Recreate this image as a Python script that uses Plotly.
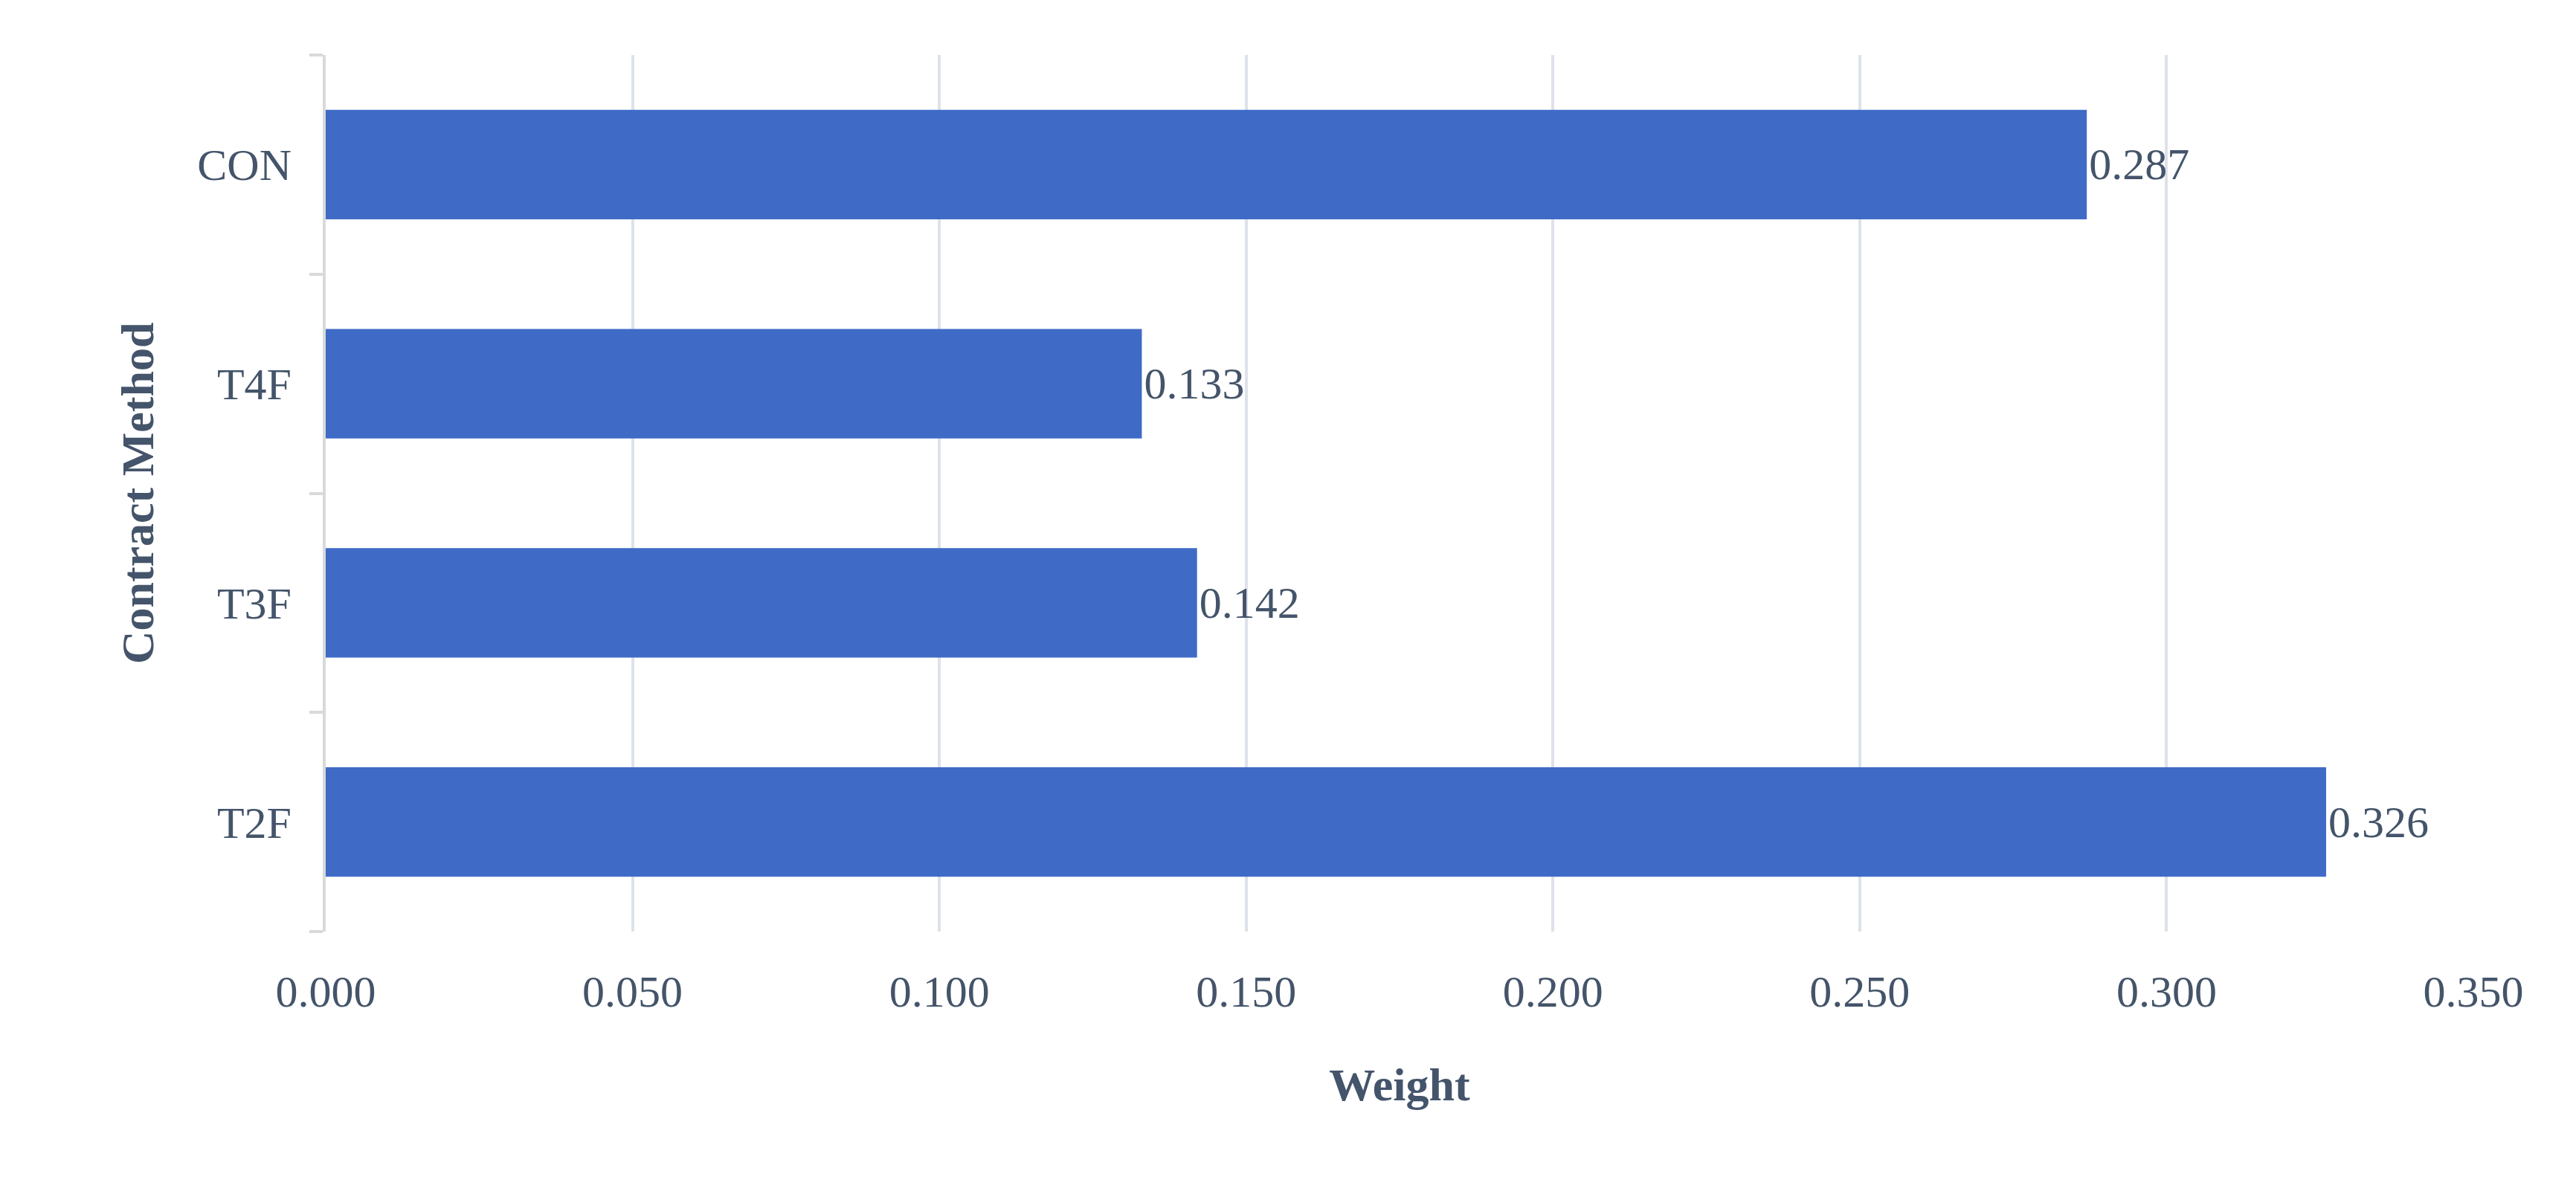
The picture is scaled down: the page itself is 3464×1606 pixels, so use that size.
import plotly.graph_objects as go

categories = ["T2F", "T3F", "T4F", "CON"]
weights = [0.326, 0.142, 0.133, 0.287]
labels = ["0.326", "0.142", "0.133", "0.287"]

txt = "#44546a"
font = "Liberation Serif"

fig = go.Figure(go.Bar(
    y=categories, x=weights, orientation="h", width=0.5,
    marker=dict(color="#3f6bc7", line=dict(width=0)),
    text=labels, textposition="outside", cliponaxis=False,
    textfont=dict(family=font, size=60, color=txt),
))
fig.update_layout(
    width=3464, height=1606, plot_bgcolor="white", paper_bgcolor="white",
    margin=dict(l=430, r=146, t=66, b=361), showlegend=False,
    font=dict(family=font, size=60, color=txt),
)
fig.update_xaxes(range=[0, 0.35], dtick=0.05, tickformat=".3f", showgrid=True,
                 gridcolor="#dde2ea", gridwidth=4, zeroline=False, showline=False,
                 ticks="", ticklabelstandoff=40,
                 title=dict(text="<b>Weight</b>", font=dict(size=62, color=txt), standoff=70))
fig.update_yaxes(showline=True, linecolor="#d9d9d9", linewidth=4, ticks="outside",
                 tickson="boundaries", ticklen=18, tickcolor="#d9d9d9", tickwidth=4,
                 showgrid=False, ticklabelstandoff=30,
                 title=dict(text="<b>Contract Method</b>", font=dict(size=62, color=txt), standoff=40))
fig.write_html("out.html")
